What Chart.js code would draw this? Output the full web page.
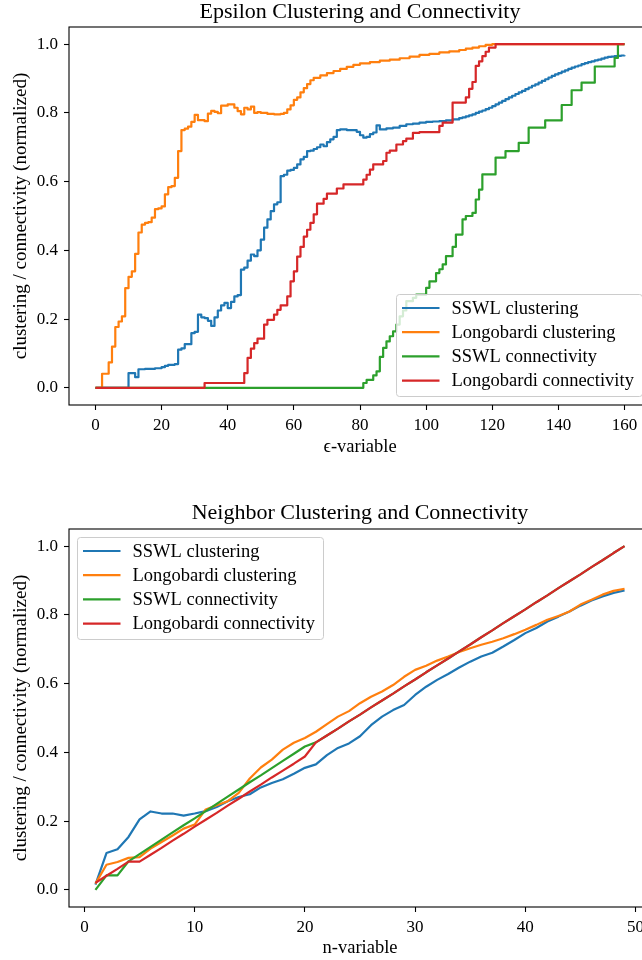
<!DOCTYPE html>
<html>
<head>
<meta charset="utf-8">
<script src="https://cdn.jsdelivr.net/npm/chart.js@4.4.1/dist/chart.umd.min.js"></script>
<style>
  html, body { margin: 0; padding: 0; background: #fff; overflow: hidden; }
  body { width: 642px; height: 960px; position: relative; }
  .panel { position: absolute; left: 0; width: 660px; height: 480px; }
  #epsPanel { top: 0; }
  #nPanel { top: 480px; }
</style>
</head>
<body>
<div class="panel" id="epsPanel"><canvas id="epsChart" width="660" height="480"></canvas></div>
<div class="panel" id="nPanel"><canvas id="nChart" width="660" height="480"></canvas></div>
<script>
  // ---- epsilon sweep: [epsilon, value] change points (value holds until the next point)
  const epsSswlClustering = [
    [0, 0], [10, 0.043], [12, 0.031], [13, 0.054], [15, 0.055], [18, 0.057], [20, 0.06], [21, 0.064], [22, 0.067],
    [24, 0.069], [25, 0.111], [26, 0.115], [27, 0.127], [29, 0.159], [30, 0.163], [31, 0.213], [32, 0.205],
    [33, 0.203], [34, 0.195], [35, 0.18], [36, 0.205], [37, 0.225], [38, 0.24], [39, 0.247], [40, 0.232],
    [41, 0.25], [42, 0.266], [43, 0.27], [44, 0.344], [45, 0.35], [46, 0.37], [47, 0.388], [48, 0.383],
    [49, 0.4], [50, 0.431], [51, 0.466], [52, 0.49], [53, 0.514], [54, 0.534], [55, 0.54], [56, 0.616],
    [57, 0.62], [58, 0.632], [59, 0.634], [60, 0.64], [61, 0.65], [62, 0.665], [63, 0.672], [64, 0.689],
    [65, 0.69], [66, 0.695], [67, 0.7], [68, 0.708], [69, 0.703], [70, 0.715], [71, 0.723], [72, 0.73],
    [73, 0.75], [74, 0.752], [76, 0.75], [79, 0.745], [80, 0.735], [81, 0.728], [82, 0.73], [83, 0.738],
    [84, 0.743], [85, 0.764], [86, 0.752], [88, 0.755], [90, 0.757], [92, 0.762], [94, 0.767], [96, 0.769],
    [98, 0.772], [100, 0.774], [102, 0.775], [104, 0.776], [106, 0.778], [108, 0.781], [110, 0.785],
    [111, 0.787], [112, 0.79], [113, 0.793], [114, 0.796], [115, 0.8], [116, 0.804], [117, 0.807], [118, 0.811],
    [119, 0.815], [120, 0.82], [121, 0.825], [122, 0.83], [123, 0.835], [124, 0.84], [125, 0.845], [126, 0.85],
    [127, 0.855], [128, 0.86], [129, 0.864], [130, 0.869], [131, 0.874], [132, 0.879], [133, 0.883],
    [134, 0.888], [135, 0.893], [136, 0.898], [137, 0.903], [138, 0.908], [139, 0.912], [140, 0.916],
    [141, 0.92], [142, 0.924], [143, 0.928], [144, 0.932], [145, 0.935], [146, 0.938], [147, 0.942],
    [148, 0.945], [149, 0.948], [150, 0.95], [151, 0.953], [152, 0.955], [153, 0.958], [154, 0.961],
    [155, 0.963], [156, 0.964], [157, 0.965], [158, 0.966], [159, 0.967], [160, 0.968]
  ];
  const epsLongoClustering = [
    [0, 0], [2, 0.041], [4, 0.074], [5, 0.12], [6, 0.177], [7, 0.193], [8, 0.208], [9, 0.29], [10, 0.323],
    [11, 0.339], [12, 0.39], [13, 0.452], [14, 0.475], [15, 0.48], [16, 0.482], [17, 0.495], [18, 0.52],
    [19, 0.522], [20, 0.528], [21, 0.563], [22, 0.584], [23, 0.587], [24, 0.611], [25, 0.689], [26, 0.75],
    [27, 0.754], [28, 0.76], [29, 0.774], [30, 0.794], [31, 0.779], [33, 0.776], [34, 0.798], [35, 0.806],
    [36, 0.803], [37, 0.799], [38, 0.821], [40, 0.825], [42, 0.815], [43, 0.805], [44, 0.796], [45, 0.815],
    [46, 0.81], [47, 0.818], [48, 0.8], [49, 0.802], [50, 0.8], [52, 0.797], [54, 0.796], [56, 0.797],
    [57, 0.8], [58, 0.81], [59, 0.822], [60, 0.838], [61, 0.845], [62, 0.86], [63, 0.872], [64, 0.884],
    [65, 0.895], [66, 0.902], [68, 0.909], [70, 0.916], [72, 0.922], [74, 0.928], [76, 0.934], [78, 0.94],
    [80, 0.944], [83, 0.948], [86, 0.952], [89, 0.955], [92, 0.959], [95, 0.964], [98, 0.969], [101, 0.972],
    [104, 0.976], [107, 0.979], [110, 0.983], [112, 0.987], [114, 0.99], [116, 0.994], [118, 0.998],
    [120, 1.0], [160, 1.0]
  ];
  const epsSswlConnectivity = [
    [0, 0], [81, 0.014], [82, 0.023], [84, 0.036], [85, 0.048], [86, 0.09], [87, 0.116], [88, 0.135],
    [89, 0.15], [90, 0.164], [91, 0.184], [92, 0.208], [93, 0.225], [94, 0.252], [96, 0.262], [97, 0.271],
    [100, 0.291], [101, 0.31], [103, 0.334], [104, 0.345], [105, 0.359], [106, 0.383], [108, 0.41],
    [109, 0.446], [111, 0.49], [112, 0.5], [114, 0.509], [115, 0.548], [116, 0.577], [117, 0.621],
    [121, 0.67], [124, 0.689], [128, 0.713], [131, 0.757], [136, 0.778], [141, 0.823], [144, 0.866],
    [147, 0.888], [151, 0.935], [157, 0.96], [158, 1.0], [160, 1.0]
  ];
  const epsLongoConnectivity = [
    [0, 0], [33, 0.014], [45, 0.043], [46, 0.087], [47, 0.114], [48, 0.13], [49, 0.143], [51, 0.184],
    [52, 0.198], [54, 0.213], [55, 0.227], [56, 0.24], [58, 0.266], [59, 0.31], [60, 0.339], [61, 0.382],
    [62, 0.41], [63, 0.44], [64, 0.46], [65, 0.48], [66, 0.505], [67, 0.536], [69, 0.55], [70, 0.565],
    [73, 0.58], [75, 0.592], [81, 0.606], [82, 0.62], [83, 0.635], [84, 0.65], [87, 0.66], [88, 0.684],
    [89, 0.69], [91, 0.708], [93, 0.718], [94, 0.725], [96, 0.742], [98, 0.744], [104, 0.762], [105, 0.772],
    [108, 0.83], [112, 0.845], [113, 0.87], [114, 0.89], [115, 0.937], [116, 0.95], [117, 0.965],
    [118, 0.978], [119, 0.99], [121, 1.0], [160, 1.0]
  ];
  const epsTicks = [0, 20, 40, 60, 80, 100, 120, 140, 160];

  // ---- neighbour sweep, one value per n
  const nValues = [
    1, 2, 3, 4, 5, 6, 7, 8, 9, 10, 11, 12, 13, 14, 15, 16, 17, 18, 19, 20, 21, 22, 23, 24, 25,
    26, 27, 28, 29, 30, 31, 32, 33, 34, 35, 36, 37, 38, 39, 40, 41, 42, 43, 44, 45, 46, 47, 48, 49
  ];
  const nSswlClustering = [
    0.015, 0.107, 0.118, 0.154, 0.205, 0.228, 0.222, 0.222, 0.216, 0.222, 0.229, 0.241, 0.258, 0.27, 0.278,
    0.298, 0.311, 0.322, 0.338, 0.355, 0.365, 0.392, 0.413, 0.426, 0.447, 0.479, 0.504, 0.523, 0.538, 0.567,
    0.591, 0.611, 0.628, 0.647, 0.664, 0.679, 0.69, 0.708, 0.727, 0.747, 0.762, 0.781, 0.795, 0.81, 0.827,
    0.842, 0.854, 0.864, 0.871
  ];
  const nLongoClustering = [
    0.018, 0.073, 0.081, 0.093, 0.095, 0.12, 0.139, 0.158, 0.178, 0.19, 0.234, 0.246, 0.258, 0.282, 0.324,
    0.356, 0.379, 0.408, 0.428, 0.442, 0.46, 0.482, 0.504, 0.52, 0.543, 0.562, 0.577, 0.596, 0.62, 0.64,
    0.652, 0.667, 0.679, 0.692, 0.703, 0.713, 0.722, 0.732, 0.744, 0.757, 0.771, 0.786, 0.797, 0.81, 0.83,
    0.844, 0.859, 0.87, 0.876
  ];
  const nSswlConnectivity = [
    0, 0.042, 0.042, 0.083, 0.104, 0.125, 0.146, 0.167, 0.188, 0.208, 0.229, 0.25, 0.271, 0.292, 0.313,
    0.333, 0.354, 0.375, 0.396, 0.417, 0.429, 0.449, 0.469, 0.49, 0.51, 0.531, 0.551, 0.571, 0.592, 0.612,
    0.633, 0.653, 0.673, 0.694, 0.714, 0.735, 0.755, 0.776, 0.796, 0.816, 0.837, 0.857, 0.878, 0.898, 0.918,
    0.939, 0.959, 0.98, 1.0
  ];
  const nLongoConnectivity = [
    0.02, 0.041, 0.061, 0.082, 0.082, 0.102, 0.122, 0.143, 0.163, 0.184, 0.204, 0.224, 0.245, 0.265, 0.286,
    0.306, 0.327, 0.347, 0.367, 0.388, 0.429, 0.449, 0.469, 0.49, 0.51, 0.531, 0.551, 0.571, 0.592, 0.612,
    0.633, 0.653, 0.673, 0.694, 0.714, 0.735, 0.755, 0.776, 0.796, 0.816, 0.837, 0.857, 0.878, 0.898, 0.918,
    0.939, 0.959, 0.98, 1.0
  ];
  const nTicks = [0, 10, 20, 30, 40, 50];
  const valueTicks = [0, 0.2, 0.4, 0.6, 0.8, 1.0];

  const seriesNames = ["SSWL clustering", "Longobardi clustering", "SSWL connectivity", "Longobardi connectivity"];
  const seriesColors = ["#1f77b4", "#ff7f0e", "#2ca02c", "#d62728"];

  const FONT = "'Liberation Serif', 'DejaVu Serif', serif";
  const Y_LABEL = "clustering / connectivity (normalized)";

  function toPoints(pairs) {
    return pairs.map((p) => ({ x: p[0], y: p[1] }));
  }

  // spines, legend box, title and axis titles drawn straight on the canvas
  function makeDecorations(cfg) {
    return {
      id: "decorations",
      afterDatasetsDraw(chart) {
        const { ctx, chartArea: a } = chart;
        const cx = (a.left + a.right) / 2;
        ctx.save();
        ctx.strokeStyle = "#000";
        ctx.lineWidth = 1.1;
        ctx.strokeRect(a.left, a.top, a.right - a.left, a.bottom - a.top);

        const L = cfg.legend;
        ctx.beginPath();
        ctx.roundRect(L.x, L.y, 246, 102, 3);
        ctx.fillStyle = "rgba(255,255,255,0.8)";
        ctx.fill();
        ctx.strokeStyle = "#cccccc";
        ctx.lineWidth = 1;
        ctx.stroke();
        ctx.font = "18.5px " + FONT;
        ctx.textAlign = "left";
        ctx.textBaseline = "middle";
        seriesNames.forEach((name, i) => {
          const y = L.y + 13.5 + i * 24.2;
          ctx.strokeStyle = seriesColors[i];
          ctx.lineWidth = 2.2;
          ctx.beginPath();
          ctx.moveTo(L.x + 5.5, y);
          ctx.lineTo(L.x + 43, y);
          ctx.stroke();
          ctx.fillStyle = "#000";
          ctx.fillText(name, L.x + 55, y + 1);
        });

        ctx.fillStyle = "#000";
        ctx.textAlign = "center";
        ctx.textBaseline = "alphabetic";
        ctx.font = "22px " + FONT;
        ctx.fillText(cfg.title, cx, cfg.titleY);
        ctx.font = "18.5px " + FONT;
        ctx.fillText(cfg.xLabel, cx, cfg.xLabelY);
        ctx.font = "19px " + FONT;
        ctx.translate(21, (a.top + a.bottom) / 2);
        ctx.rotate(-Math.PI / 2);
        ctx.textBaseline = "middle";
        ctx.fillText(Y_LABEL, 0, 0);
        ctx.restore();
      },
    };
  }

  function lineSet(i, data, stepped) {
    return {
      label: seriesNames[i],
      data: data,
      borderColor: seriesColors[i],
      backgroundColor: seriesColors[i],
      borderWidth: 2.2,
      pointRadius: 0,
      stepped: stepped,
      tension: 0,
      borderJoinStyle: "round",
      order: 4 - i,
    };
  }

  function scales(xMin, xMax, xTicks, top, bottom) {
    const tickGrid = { drawOnChartArea: false, drawTicks: true, tickLength: 5, tickColor: "#000", tickWidth: 1.1 };
    const tickFont = { family: FONT, size: 17 };
    return {
      x: {
        type: "linear",
        min: xMin,
        max: xMax,
        afterBuildTicks: (s) => { s.ticks = xTicks.map((v) => ({ value: v })); },
        afterFit: (s) => { s.height = 480 - bottom; },
        grid: tickGrid,
        border: { display: false },
        ticks: { color: "#000", font: tickFont, padding: 5, maxRotation: 0, callback: (v) => String(v) },
      },
      y: {
        type: "linear",
        min: -0.05,
        max: 1.05,
        afterBuildTicks: (s) => { s.ticks = valueTicks.map((v) => ({ value: v })); },
        afterFit: (s) => { s.width = 69; },
        grid: tickGrid,
        border: { display: false },
        ticks: { color: "#000", font: tickFont, padding: 6, callback: (v) => v.toFixed(1) },
      },
    };
  }

  function baseOptions(xMin, xMax, xTicks, top, bottom) {
    return {
      responsive: false,
      animation: false,
      devicePixelRatio: 1,
      layout: { padding: { left: 0, right: 9, top: top, bottom: 0 } },
      plugins: { legend: { display: false }, tooltip: { enabled: false }, title: { display: false } },
      scales: scales(xMin, xMax, xTicks, top, bottom),
    };
  }

  new Chart(document.getElementById("epsChart"), {
    type: "line",
    data: {
      datasets: [
        lineSet(0, toPoints(epsSswlClustering), "before"),
        lineSet(1, toPoints(epsLongoClustering), "before"),
        lineSet(2, toPoints(epsSswlConnectivity), "before"),
        lineSet(3, toPoints(epsLongoConnectivity), "before"),
      ],
    },
    options: baseOptions(-8, 168, epsTicks, 27, 405),
    plugins: [makeDecorations({
      title: "Epsilon Clustering and Connectivity",
      titleY: 18,
      xLabel: "\u03f5-variable",
      xLabelY: 452,
      legend: { x: 396.5, y: 294.5 },
    })],
  });

  const nPoints = (vals) => vals.map((v, i) => ({ x: nValues[i], y: v }));

  new Chart(document.getElementById("nChart"), {
    type: "line",
    data: {
      datasets: [
        lineSet(0, nPoints(nSswlClustering), false),
        lineSet(1, nPoints(nLongoClustering), false),
        lineSet(2, nPoints(nSswlConnectivity), false),
        lineSet(3, nPoints(nLongoConnectivity), false),
      ],
    },
    options: baseOptions(-1.4, 51.4, nTicks, 49, 427),
    plugins: [makeDecorations({
      title: "Neighbor Clustering and Connectivity",
      titleY: 39,
      xLabel: "n-variable",
      xLabelY: 473,
      legend: { x: 77.5, y: 57.5 },
    })],
  });
</script>
</body>
</html>
